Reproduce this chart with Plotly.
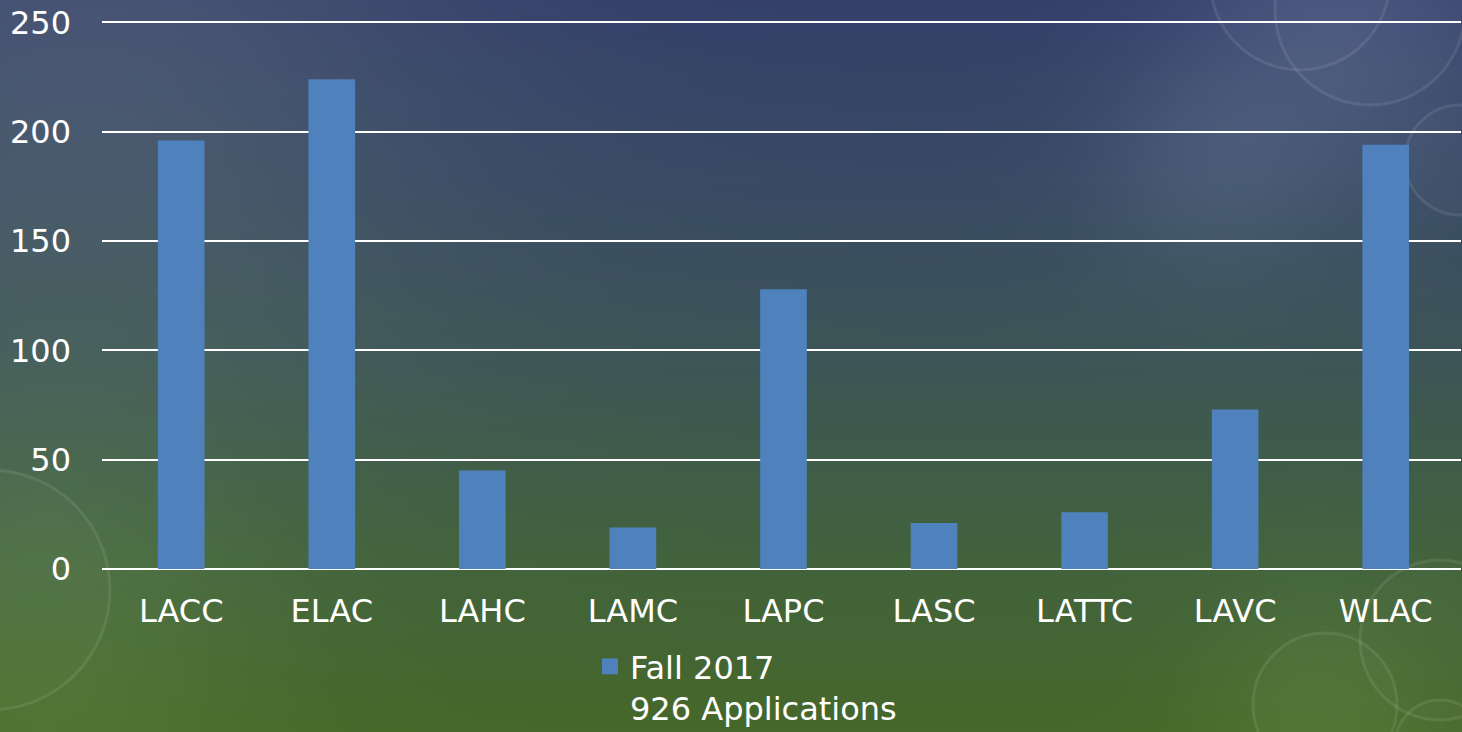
import base64, struct, zlib
import numpy as np
import plotly.graph_objects as go

# ---- data ----
colleges = ["LACC", "ELAC", "LAHC", "LAMC", "LAPC", "LASC", "LATTC", "LAVC", "WLAC"]
applications = [196, 224, 45, 19, 128, 21, 26, 73, 194]
series_name = "Fall 2017<br>926 Applications"
y_ticks = [0, 50, 100, 150, 200, 250]
y_max = 252

W, H = 1462, 732
ML, MR, MT, MB = 102, 1, 18, 163
PW, PH = W - ML - MR, H - MT - MB
BAR_COLOR = "#4f81bd"

# ---- background image (gradient + soft glows) ----
iw, ih = 366, 183
xs = np.linspace(0, W, iw)[None, :]
ys = np.linspace(0, H, ih)[:, None]
v = ys / H
stops_v = [0.0, 0.25, 0.5, 0.75, 1.0]
stops_c = [(52, 64, 106), (56, 74, 100), (61, 86, 86), (66, 98, 62), (70, 104, 42)]
img = np.zeros((ih, iw, 3))
for k in range(3):
    img[:, :, k] = np.interp(v[:, 0], stops_v, [c[k] for c in stops_c])[:, None] * np.ones((1, iw))

def glow(cx, cy, s, amp, col=(1, 1, 1)):
    g = amp * np.exp(-((xs - cx) ** 2 + (ys - cy) ** 2) / (2 * s * s))
    for k in range(3):
        img[:, :, k] += g * col[k]

glow(80, 40, 260, 20, (1, 1, 0.5))
glow(1210, 160, 85, 14, (1, 1, 1))
glow(1350, 40, 110, 18, (1, 1, 1))
glow(40, 640, 160, 14, (0.8, 1, 0.6))
glow(1320, 700, 90, 12, (0.8, 1, 0.6))
img = np.clip(img, 0, 255).astype(np.uint8)

def to_png(arr):
    h, w, _ = arr.shape
    raw = b"".join(b"\x00" + arr[r].tobytes() for r in range(h))
    def chunk(t, d):
        c = struct.pack(">I", len(d)) + t + d
        return c + struct.pack(">I", zlib.crc32(t + d) & 0xFFFFFFFF)
    return (b"\x89PNG\r\n\x1a\n" + chunk(b"IHDR", struct.pack(">IIBBBBB", w, h, 8, 2, 0, 0, 0))
            + chunk(b"IDAT", zlib.compress(raw, 9)) + chunk(b"IEND", b""))

bg_uri = "data:image/png;base64," + base64.b64encode(to_png(img)).decode()

def px_x(x):
    return (x - ML) / PW

def px_y(y):
    return (H - MB - y) / PH

# ---- figure ----
fig = go.Figure()
fig.add_trace(go.Bar(
    x=colleges, y=applications, name=series_name,
    marker=dict(color=BAR_COLOR, line=dict(width=0)),
    showlegend=False, legendgroup="s",
))
# legend entry (square swatch like the original)
fig.add_trace(go.Scatter(
    x=[colleges[0]], y=[None], mode="markers", name=series_name, legendgroup="s",
    marker=dict(symbol="square", size=18, color=BAR_COLOR), hoverinfo="skip",
))

shapes = []
for cx, cy, r in [(1370, 10, 95), (1300, -20, 90), (1460, 160, 55), (1440, 640, 80),
                  (1325, 705, 72), (1440, 745, 45), (-10, 590, 120)]:
    shapes.append(dict(type="circle", xref="paper", yref="paper", layer="below",
                       x0=px_x(cx - r), x1=px_x(cx + r), y0=px_y(cy + r), y1=px_y(cy - r),
                       line=dict(color="rgba(255,255,255,0.09)", width=3),
                       fillcolor="rgba(255,255,255,0.02)"))

font = "DejaVu Sans, Verdana, sans-serif"
FS = 32
fig.update_layout(
    width=W, height=H,
    margin=dict(l=ML, r=MR, t=MT, b=MB, pad=0, autoexpand=False),
    paper_bgcolor="#3d5558", plot_bgcolor="rgba(0,0,0,0)",
    font=dict(family=font, size=FS, color="white"),
    bargap=0.69,
    images=[dict(source=bg_uri, xref="paper", yref="paper",
                 x=px_x(0), y=px_y(0), sizex=W / PW, sizey=H / PH,
                 xanchor="left", yanchor="top", sizing="stretch", layer="below")],
    shapes=shapes,
    xaxis=dict(showgrid=False, showline=False, zeroline=False, ticks="",
               tickfont=dict(size=FS, color="white"), ticklabelstandoff=20),
    yaxis=dict(range=[0, y_max], tickvals=y_ticks, showgrid=True, gridcolor="white",
               gridwidth=2, zeroline=True, zerolinecolor="white", zerolinewidth=2,
               showline=False, ticks="", tickfont=dict(size=FS, color="white"),
               ticklabelstandoff=30),
    legend=dict(orientation="h", x=px_x(590), xanchor="left", y=px_y(639), yanchor="top",
                font=dict(size=FS, color="white"), bgcolor="rgba(0,0,0,0)",
                itemwidth=30, valign="top"),
)

fig.write_html("out.html", config={"displayModeBar": False},
               post_script="document.body.style.margin='0';document.body.style.overflow='hidden';")
